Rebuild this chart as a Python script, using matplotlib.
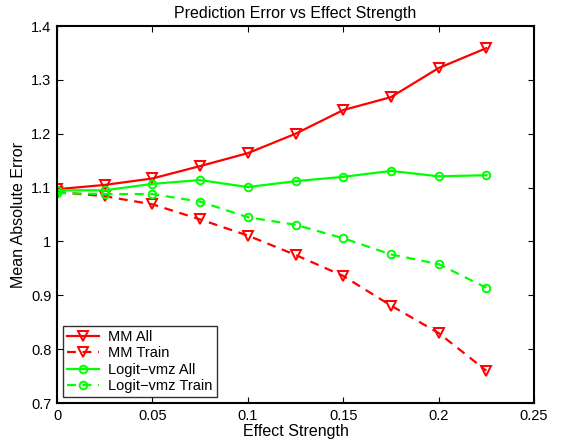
import numpy as np
import matplotlib
matplotlib.use("Agg")
import matplotlib.pyplot as plt

plt.rcParams['font.family'] = ['Liberation Sans', 'DejaVu Sans']

# data
strength = [0, 0.025, 0.05, 0.075, 0.1, 0.125, 0.15, 0.175, 0.2, 0.225]
mm_all = [1.097, 1.105, 1.117, 1.140, 1.164, 1.200, 1.244, 1.268, 1.322, 1.359]
mm_train = [1.092, 1.084, 1.069, 1.041, 1.011, 0.975, 0.936, 0.881, 0.830, 0.760]
logit_all = [1.095, 1.095, 1.107, 1.114, 1.101, 1.112, 1.120, 1.131, 1.121, 1.123]
logit_train = [1.090, 1.088, 1.088, 1.074, 1.045, 1.031, 1.006, 0.976, 0.958, 0.914]

xticks = [0, 0.05, 0.1, 0.15, 0.2, 0.25]
yticks = [0.7, 0.8, 0.9, 1.0, 1.1, 1.2, 1.3, 1.4]
ytick_labels = ['0.7', '0.8', '0.9', '1', '1.1', '1.2', '1.3', '1.4']

fig = plt.figure(figsize=(5.69, 4.44), dpi=100)
ax = fig.add_axes([0.1002, 0.0923, 0.8383, 0.849])

red = (1, 0, 0)
green = (0, 1, 0)
dash = (0, (4, 3))

ax.plot(strength, mm_all, color=red, lw=1.6, marker='v', ms=6.5, mfc='none', mew=1.4, label='MM All')
ax.plot(strength, mm_train, color=red, lw=1.6, ls=dash, marker='v', ms=6.5, mfc='none', mew=1.4, label='MM Train')
ax.plot(strength, logit_all, color=green, lw=1.6, marker='o', ms=5.5, mfc='none', mew=1.4, label='Logit\u2212vmz All')
ax.plot(strength, logit_train, color=green, lw=1.6, ls=dash, marker='o', ms=5.5, mfc='none', mew=1.4, label='Logit\u2212vmz Train')

ax.set_xlim(0, 0.25)
ax.set_ylim(0.7, 1.4)
ax.set_xticks(xticks)
ax.set_xticklabels(['0', '0.05', '0.1', '0.15', '0.2', '0.25'])
ax.set_yticks(yticks)
ax.set_yticklabels(ytick_labels)
ax.tick_params(direction='in', length=4, width=0.8, labelsize=10.5, top=True, right=True, pad=4)
for s in ax.spines.values():
    s.set_linewidth(1.5)

ax.set_xlabel('Effect Strength', fontsize=11.5, labelpad=1)
ax.set_ylabel('Mean Absolute Error', fontsize=11.5, labelpad=4)
ax.set_title('Prediction Error vs Effect Strength', fontsize=11.5, pad=6)

leg = ax.legend(loc='lower left', fontsize=10.5, frameon=True, fancybox=False,
                edgecolor='black', handlelength=2.2, borderpad=0.3, labelspacing=0.15,
                borderaxespad=0.4, handletextpad=0.6)
leg.get_frame().set_linewidth(1.0)

fig.savefig('out.png', dpi=100)
